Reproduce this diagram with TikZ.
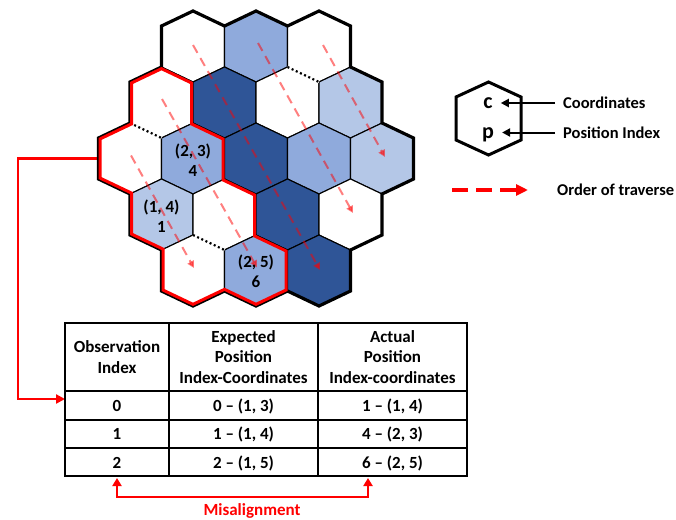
\documentclass[tikz,border=0pt]{standalone}
\usepackage{fontspec}
\setmainfont{Carlito}
\usetikzlibrary{arrows.meta}
\definecolor{celldark}{HTML}{2F5597}
\definecolor{cellmid}{HTML}{8FAADC}
\definecolor{celllight}{HTML}{B4C7E7}
\begin{document}
\begin{tikzpicture}[x=1pt,y=-1pt,
  every node/.style={font=\bfseries\fontsize{16.5}{20.5}\selectfont, inner sep=0pt},
  cell/.style={draw=black, line width=1.1pt, line join=miter},
  rim/.style={draw=black, line width=3.2pt, line join=miter},
  redrim/.style={draw=red, line width=6pt, line join=miter},
  gapline/.style={draw=black, line width=2.2pt, dash pattern=on 2pt off 2.6pt},
  trav/.style={draw=red, opacity=0.5, line width=2pt, dash pattern=on 9pt off 6pt,
    -{Triangle[length=7pt,width=7pt]}},
  link/.style={draw=red, line width=2.5pt, -{Triangle[length=9pt,width=9pt]}},
  twoway/.style={draw=red, line width=2.5pt,
    {Triangle[length=8pt,width=9pt]}-{Triangle[length=8pt,width=9pt]}},
  tbl/.style={draw=black, line width=1.2pt},
  tabtext/.style={font=\bfseries\fontsize{17}{20.5}\selectfont},
  celltext/.style={tabtext, text height=12pt, text depth=3.5pt},
  lbl/.style={align=center, font=\bfseries\fontsize{17}{20}\selectfont},
  bigletter/.style={font=\bfseries\fontsize{22}{24}\selectfont},
]
\useasboundingbox (0,0) rectangle (676,519);

% hexagon centres, rows of 3-4-5-4-3
\foreach \r/\y/\xo/\n in {1/46.5/193/3, 2/102.5/161.5/4, 3/158.5/130/5, 4/214.5/161.5/4, 5/270.5/193/3}
  \foreach \c in {1,...,\n}
    \coordinate (h\r\c) at ({\xo+63*(\c-1)},\y);

% link from the board to the table (drawn first, the rim covers its start)
\coordinate (gridL) at ([shift={(-31.5,0)}]h31);
\coordinate (rowzero) at (65,399);
\draw[link] (gridL) -- ++(-80.5,0) |- (rowzero);

% cells
\foreach \h/\col in {11/white,12/cellmid,13/white,
                     21/white,22/celldark,23/white,24/celllight,
                     31/white,32/cellmid,33/celldark,34/cellmid,35/celllight,
                     41/celllight,42/white,43/celldark,44/white,
                     51/white,52/cellmid,53/celldark}
  \filldraw[cell, fill=\col] (h\h) ++(0,-35.5) -- ++(31.5,15) -- ++(0,41)
    -- ++(-31.5,15) -- ++(-31.5,-15) -- ++(0,-41) -- cycle;

% dotted edges
\foreach \h in {13,21,42} {
  \draw[white, line width=2.4pt] ([shift={(-31.5,20.5)}]h\h) -- ([shift={(0,35.5)}]h\h);
  \draw[gapline] ([shift={(-31.5,20.5)}]h\h) -- ([shift={(0,35.5)}]h\h);
}

% outer rim of the board
\draw[rim] (161.5,26) -- (193,11) -- (224.5,26) -- (256,11) -- (287.5,26) -- (319,11)
  -- (350.5,26) -- (350.5,67) -- (382,82) -- (382,123) -- (413.5,138) -- (413.5,179)
  -- (382,194) -- (382,235) -- (350.5,250) -- (350.5,291) -- (319,306) -- (287.5,291)
  -- (256,306) -- (224.5,291) -- (193,306) -- (161.5,291) -- (161.5,250) -- (130,235)
  -- (130,194) -- (98.5,179) -- (98.5,138) -- (130,123) -- (130,82) -- (161.5,67) -- cycle;

% red region, stroked on its inner side
\begin{scope}
  \clip (161.5,67) -- (193,82) -- (193,123) -- (224.5,138) -- (224.5,179) -- (256,194)
    -- (256,235) -- (287.5,250) -- (287.5,291) -- (256,306) -- (224.5,291) -- (193,306)
    -- (161.5,291) -- (161.5,250) -- (130,235) -- (130,194) -- (98.5,179) -- (98.5,138)
    -- (130,123) -- (130,82) -- cycle;
  \draw[redrim] (161.5,67) -- (193,82) -- (193,123) -- (224.5,138) -- (224.5,179) -- (256,194)
    -- (256,235) -- (287.5,250) -- (287.5,291) -- (256,306) -- (224.5,291) -- (193,306)
    -- (161.5,291) -- (161.5,250) -- (130,235) -- (130,194) -- (98.5,179) -- (98.5,138)
    -- (130,123) -- (130,82) -- cycle;
\end{scope}

% traversal order
\draw[trav] ([shift={(1,-3)}]h31) -- ([shift={(1,-2.5)}]h51);
\draw[trav] ([shift={(0.5,-3.5)}]h21) -- ([shift={(1,-3)}]h52);
\draw[trav] ([shift={(0,-1.5)}]h11) -- ([shift={(1,-0.5)}]h53);
\draw[trav] ([shift={(2,-3.5)}]h12) -- ([shift={(2.5,-1.5)}]h44);
\draw[trav] ([shift={(4,-1.5)}]h13) -- ([shift={(3,-1.5)}]h35);

% cell labels
\node[lbl] (lab23) at ([shift={(0,1.5)}]h32) {(2, 3)\\4};
\node[lbl] (lab14) at ([shift={(0,2)}]h41) {(1, 4)\\1};
\node[lbl] (lab25) at ([shift={(0,1)}]h52) {(2, 5)\\6};

% legend
\coordinate (lhex) at (488.5,118.5);
\draw[line width=3pt, line join=miter] (lhex) ++(0,-36.5) -- ++(32.5,15) -- ++(0,43)
  -- ++(-32.5,15) -- ++(-32.5,-15) -- ++(0,-43) -- cycle;
\node[bigletter] (legc) at (488,103) {c};
\node[bigletter] (legp) at (488,134.5) {p};
\node[anchor=west] (legct) at (563,103) {Coordinates};
\node[anchor=west] (legpt) at (563,132.5) {Position Index};
\coordinate (ctip) at (legc.east |- legct.west);
\coordinate (ptip) at (legp.east |- legpt.west);
\draw[line width=2pt, -{Triangle[length=8pt,width=8pt]}]
  ([shift={(-8,0)}]legct.west) -- ([shift={(8,0)}]ctip);
\draw[line width=2pt, -{Triangle[length=8pt,width=8pt]}]
  ([shift={(-8,0)}]legpt.west) -- ([shift={(8,0)}]ptip);

\coordinate (travA) at (452,190);
\coordinate (travB) at (528,190);
\draw[red, line width=3.5pt, dash pattern=on 16pt off 8pt,
  -{Triangle[length=12pt,width=11pt]}] (travA) -- (travB);
\node[anchor=west] (legtt) at (557,190) {Order of traverse};

% table
\draw[tbl] (65,323) rectangle (467,476);
\draw[tbl] (169,323) -- (169,476);
\draw[tbl] (318,323) -- (318,476);
\draw[tbl] (65,391) -- (467,391);
\draw[tbl] (65,420) -- (467,420);
\draw[tbl] (65,448) -- (467,448);

\node[tabtext, align=center] (th1) at (117,357) {Observation\\Index};
\node[tabtext, align=center] (th2) at (243.5,357) {Expected\\Position\\Index-Coordinates};
\node[tabtext, align=center] (th3) at (392.5,357) {Actual\\Position\\Index-coordinates};

\node[celltext] (r1a) at (117,407.3) {0};
\node[celltext] (r1b) at (243.5,407.3) {0 – (1, 3)};
\node[celltext] (r1c) at (392.5,407.3) {1 – (1, 4)};
\node[celltext] (r2a) at (117,435.7) {1};
\node[celltext] (r2b) at (243.5,435.7) {1 – (1, 4)};
\node[celltext] (r2c) at (392.5,435.7) {4 – (2, 3)};
\node[celltext] (r3a) at (117,464) {2};
\node[celltext] (r3b) at (243.5,464) {2 – (1, 5)};
\node[celltext] (r3c) at (392.5,464) {6 – (2, 5)};

% misalignment marker
\coordinate (misA) at (117,478);
\coordinate (misB) at (368,478);
\draw[twoway] (misA) -- ++(0,19) -| (misB);
\node[text=red, font=\bfseries\fontsize{17}{20}\selectfont] (misT) at (252,510.5) {Misalignment};
\end{tikzpicture}
\end{document}
